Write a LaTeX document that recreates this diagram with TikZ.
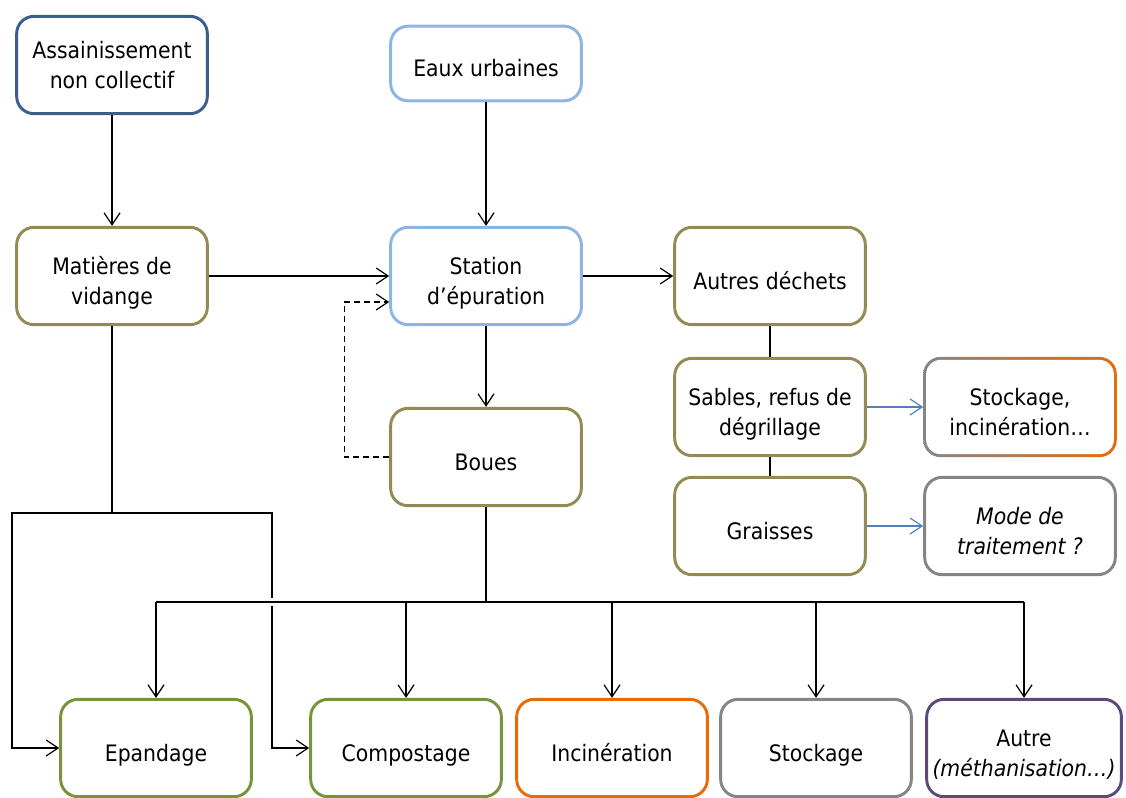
\documentclass[tikz,border=0pt]{standalone}
\usepackage{fontspec}
\setmainfont{DejaVu Sans}[FakeStretch=0.9]
\usepackage{tikz}
\usetikzlibrary{arrows.meta,positioning,calc,backgrounds}
\definecolor{SaniNavy}{HTML}{3B5E8C}
\definecolor{SaniSky}{HTML}{8EB4E3}
\definecolor{SaniOlive}{HTML}{948A54}
\definecolor{SaniGreen}{HTML}{77933C}
\definecolor{SaniOrange}{HTML}{E46C0A}
\definecolor{SaniGray}{HTML}{858585}
\definecolor{SaniPurple}{HTML}{5F497A}
\definecolor{SaniSteel}{HTML}{4F81BD}
\tikzset{
  stage/.style={line width=2.2pt, rounded corners=13pt, fill=white, align=center,
    minimum width=143pt, minimum height=73pt, font=\fontsize{17}{22.5}\selectfont,
    text height=24pt, text depth=4pt},
  twolines/.style={text height=46.5pt, text depth=4pt},
  origin/.style={stage, draw=SaniNavy, text height=35.4pt, text depth=0pt},
  network/.style={stage, draw=SaniSky},
  residue/.style={stage, draw=SaniOlive},
  reuse/.style={stage, draw=SaniGreen},
  burn/.style={stage, draw=SaniOrange},
  landfill/.style={stage, draw=SaniGray},
  otherbox/.style={stage, draw=SaniPurple, minimum width=146pt},
  unknown/.style={stage, draw=SaniGray, font=\fontsize{17}{22.5}\selectfont\itshape},
  wire/.style={-{Straight Barb[length=9pt, width=12pt]}, line width=0.9pt},
  link/.style={line width=0.9pt},
  sidewire/.style={wire, draw=SaniSteel},
  returnwire/.style={wire, dash pattern=on 4.5pt off 3pt},
  trunk/.style={line width=1.8pt},
  busline/.style={line width=1.1pt, preaction={draw=white, line width=6pt}}
}
\begin{document}
\begin{tikzpicture}[x=0.75pt, y=-0.75pt]
  \useasboundingbox (0,0) rectangle (1126,797);
  % sources
  \node[origin] (anc) at (112,65) {Assainissement\\non collectif};
  \node[network, minimum height=56pt] (eaux) at (486,63.5) {Eaux urbaines};
  \node[residue, twolines] (vidange) at (112,276) {Matières de\\vidange};
  \node[network, twolines] (station) at (486,276) {Station\\d’épuration};
  \node[residue] (autres) at (770,276) {Autres déchets};
  \node[residue] (boues) at (486,457) {Boues};
  \node[residue, twolines] (sables) at (770,407) {Sables, refus de\\dégrillage};
  \node[residue] (graisses) at (770,526) {Graisses};
  \node[stage, twolines, draw=none, fill=none] (stockinc) at (1020,407) {Stockage,\\incinération…};
  \node[unknown, twolines] (mode) at (1020,526) {Mode de\\traitement ?};
  % outlets
  \node[reuse] (epandage) at (156,748) {Epandage};
  \node[reuse] (compost) at (406,748) {Compostage};
  \node[burn] (incin) at (612,748) {Incinération};
  \node[landfill] (stock) at (816,748) {Stockage};
  \node[otherbox, twolines] (autre) at (1024,748) {Autre\\{\itshape(méthanisation…)}};
  \begin{scope}[on background layer]
    \shade[rounded corners=13pt, left color=SaniGray, right color=SaniOrange]
      (stockinc.north west) rectangle (stockinc.south east);
    \fill[white, rounded corners=11pt]
      ([xshift=2.2pt, yshift=-2.2pt]stockinc.north west) rectangle ([xshift=-2.2pt, yshift=2.2pt]stockinc.south east);
  \end{scope}
  % main flow
  \draw[wire] (anc) -- (vidange);
  \draw[wire] (eaux) -- (station);
  \draw[wire] (vidange) -- (station);
  \draw[wire] (station) -- (autres);
  \draw[wire] (station) -- (boues);
  \coordinate (loopin) at ($(station.west)+(0,26)$);
  \draw[returnwire] (boues.west) -- ++(-45,0) |- (loopin);
  \draw[link] (autres) -- (sables);
  \draw[link] (sables) -- (graisses);
  \draw[sidewire] (sables) -- (stockinc);
  \draw[sidewire] (graisses) -- (mode);
  % matieres de vidange
  \coordinate (split) at (112,513);
  \coordinate (bendL) at (12,513);
  \coordinate (bendR) at (272,513);
  \draw[link] (vidange) -- (split);
  \draw[wire] (split) -- (bendL) |- (epandage);
  \draw[wire] (split) -- (bendR) |- (compost);
  % boues
  \coordinate (hub) at (486,602);
  \draw[busline] (epandage.north |- hub) -- (autre.north |- hub);
  \draw[trunk] (boues) -- (hub);
  \foreach \dest in {epandage,compost,incin,stock,autre}
    \draw[wire] (\dest.north |- hub) -- (\dest);
\end{tikzpicture}
\end{document}
